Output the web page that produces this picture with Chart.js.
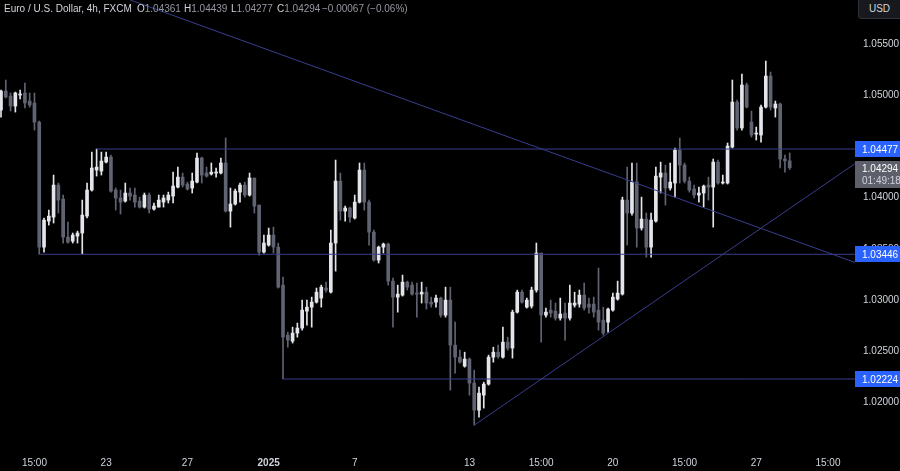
<!DOCTYPE html>
<html>
<head>
<meta charset="utf-8">
<script src="https://cdn.jsdelivr.net/npm/chart.js@4.4.1/dist/chart.umd.min.js"></script>
<style>
html, body { margin: 0; padding: 0; background: #000; }
#wrap { position: relative; width: 900px; height: 471px; overflow: hidden; background: #000; font-family: "Liberation Sans", Arial, sans-serif; }
#wrap canvas { position: absolute; left: 0; top: 0; }
.hdr { position: absolute; top: 3px; font-size: 10px; line-height: 12px; color: #d1d4dc; white-space: nowrap; }
.hdr span { color: #9598a1; }
#usd { position: absolute; right: 0; top: 0; width: 41px; height: 18px; background: #17191f; border-left: 1px solid #2f323c; border-bottom: 1px solid #2f323c; border-radius: 0 0 0 4px; color: #d1d4dc; font-size: 10px; line-height: 18px; text-align: center; }
</style>
</head>
<body>
<div id="wrap">
  <canvas id="chart" width="900" height="471"></canvas>
  <div class="hdr" style="left:4px">Euro / U.S. Dollar, 4h, FXCM</div>
  <div class="hdr" style="left:137px">O<span>1.04361</span></div>
  <div class="hdr" style="left:184px">H<span>1.04439</span></div>
  <div class="hdr" style="left:231px">L<span>1.04277</span></div>
  <div class="hdr" style="left:277px">C<span>1.04294</span></div>
  <div class="hdr" style="left:322px"><span>&minus;0.00067 (&minus;0.06%)</span></div>
  <div id="usd">USD</div>
</div>
<script>
// 4h candles, EUR/USD (FXCM)
var opens = [
  1.04859,1.05045,1.04996,1.04898,1.05006,1.05026,1.04947,1.04928,1.04741,1.03516,
  1.03771,1.03810,1.04124,1.03987,1.03614,1.03575,1.03624,1.03654,1.03820,1.04075,
  1.04271,1.04261,1.04349,1.04398,1.04075,1.03997,1.03967,1.04046,1.04026,1.03967,
  1.03908,1.04026,1.03889,1.03908,1.03957,1.03977,1.04016,1.04104,1.04202,1.04134,
  1.04095,1.04153,1.04389,1.04242,1.04232,1.04242,1.04242,1.04340,1.03869,1.03938,
  1.04055,1.04124,1.04026,1.04193,1.03928,1.03467,1.03536,1.03634,1.03516,1.03144,
  1.02654,1.02595,1.02674,1.02723,1.02889,1.02928,1.02977,1.03017,1.03115,1.03075,
  1.03556,1.04163,1.03869,1.03899,1.03801,1.03957,1.04271,1.03957,1.03663,1.03389,
  1.03516,1.03546,1.03183,1.03026,1.03046,1.03173,1.03144,1.03066,1.03056,1.03075,
  1.02977,1.02977,1.03017,1.02850,1.02997,1.02556,1.02438,1.02350,1.02419,1.02184,
  1.01919,1.02066,1.02174,1.02438,1.02487,1.02438,1.02585,1.02527,1.02879,1.03075,
  1.02928,1.02938,1.03095,1.03458,1.02850,1.02899,1.02889,1.02821,1.02870,1.02821,
  1.02948,1.02958,1.03046,1.02958,1.02958,1.02899,1.02801,1.02781,1.02899,1.03007,
  1.03056,1.03977,1.03850,1.04153,1.03703,1.03791,1.03516,1.03771,1.04202,1.04242,
  1.04095,1.04144,1.04467,1.04320,1.04163,1.04085,1.04026,1.04046,1.04124,1.04104,
  1.04349,1.04144,1.04144,1.04496,1.04937,1.04683,1.05104,1.04741,1.04624,1.04614,
  1.04888,1.05192,1.04879,1.04918,1.04379,1.04361
];
var highs = [
  1.05055,1.05153,1.05026,1.05035,1.05055,1.05124,1.05026,1.05026,1.04751,1.03801,
  1.03879,1.04222,1.04144,1.04026,1.03761,1.03654,1.03673,1.03977,1.04144,1.04447,
  1.04477,1.04447,1.04447,1.04418,1.04095,1.04075,1.04144,1.04095,1.04095,1.04006,
  1.04046,1.04046,1.03948,1.04026,1.04026,1.04055,1.04251,1.04300,1.04242,1.04153,
  1.04242,1.04438,1.04398,1.04300,1.04340,1.04291,1.04389,1.04585,1.04095,1.04085,
  1.04144,1.04153,1.04242,1.04193,1.03928,1.03634,1.03703,1.03712,1.03556,1.03222,
  1.02683,1.02732,1.02772,1.02997,1.02997,1.03026,1.03115,1.03144,1.03173,1.03683,
  1.04369,1.04242,1.03918,1.03908,1.04026,1.04340,1.04340,1.03977,1.03683,1.03526,
  1.03556,1.03556,1.03213,1.03144,1.03242,1.03183,1.03173,1.03164,1.03173,1.03124,
  1.03026,1.03046,1.03026,1.03124,1.03124,1.02781,1.02507,1.02487,1.02429,1.02311,
  1.02144,1.02193,1.02458,1.02536,1.02556,1.02732,1.02634,1.02899,1.03095,1.03095,
  1.03017,1.03124,1.03556,1.03458,1.02919,1.02997,1.02968,1.03017,1.02968,1.03144,
  1.03075,1.03095,1.03164,1.03017,1.03026,1.03311,1.02928,1.02919,1.03066,1.03183,
  1.04006,1.04300,1.04340,1.04340,1.04006,1.03850,1.03850,1.04300,1.04349,1.04320,
  1.04340,1.04487,1.04585,1.04340,1.04202,1.04124,1.04104,1.04124,1.04202,1.04379,
  1.04369,1.04222,1.04536,1.05153,1.04957,1.05212,1.05124,1.04849,1.04692,1.04908,
  1.05339,1.05231,1.04947,1.04928,1.04418,1.04439
];
var lows = [
  1.04790,1.04977,1.04849,1.04839,1.04967,1.04879,1.04888,1.04663,1.03446,1.03467,
  1.03732,1.03752,1.03850,1.03556,1.03556,1.03556,1.03556,1.03450,1.03801,1.04065,
  1.04212,1.04222,1.04340,1.04055,1.03879,1.03840,1.03957,1.03977,1.03908,1.03899,
  1.03899,1.03850,1.03879,1.03908,1.03908,1.03948,1.03948,1.04095,1.04104,1.04075,
  1.04046,1.04144,1.04144,1.04202,1.04222,1.04202,1.04232,1.03859,1.03712,1.03928,
  1.03957,1.04006,1.04016,1.03850,1.03438,1.03458,1.03526,1.03458,1.03115,1.02224,
  1.02536,1.02576,1.02634,1.02703,1.02752,1.02732,1.02968,1.02928,1.03075,1.03066,
  1.03281,1.03781,1.03771,1.03761,1.03791,1.03948,1.03879,1.03536,1.03379,1.03360,
  1.03458,1.03144,1.02732,1.02879,1.03036,1.03095,1.03046,1.02830,1.02968,1.02909,
  1.02928,1.02928,1.02830,1.02830,1.02115,1.02282,1.02380,1.02340,1.02066,1.01772,
  1.01850,1.01939,1.02164,1.02389,1.02429,1.02429,1.02507,1.02429,1.02870,1.02968,
  1.02919,1.02919,1.03075,1.02585,1.02830,1.02830,1.02801,1.02801,1.02605,1.02801,
  1.02928,1.02928,1.02899,1.02870,1.02830,1.02703,1.02654,1.02683,1.02889,1.02997,
  1.03046,1.03536,1.03830,1.03516,1.03683,1.03418,1.03418,1.03761,1.04046,1.03928,
  1.04075,1.04006,1.04144,1.04144,1.04055,1.03997,1.03957,1.03908,1.03977,1.03712,
  1.04134,1.04134,1.04134,1.04487,1.04663,1.04663,1.04879,1.04594,1.04565,1.04545,
  1.04879,1.04859,1.04790,1.04291,1.04251,1.04277
];
var closes = [
  1.05045,1.04986,1.04898,1.05026,1.05016,1.04928,1.04908,1.04741,1.03516,1.03781,
  1.03820,1.04124,1.03977,1.03614,1.03565,1.03634,1.03654,1.03830,1.04075,1.04291,
  1.04300,1.04359,1.04398,1.04065,1.03997,1.03957,1.04046,1.04016,1.03957,1.03908,
  1.04026,1.03889,1.03918,1.03977,1.03997,1.04026,1.04114,1.04202,1.04124,1.04085,
  1.04163,1.04389,1.04222,1.04212,1.04251,1.04251,1.04340,1.03869,1.03938,1.04065,
  1.04124,1.04026,1.04193,1.03918,1.03467,1.03556,1.03634,1.03516,1.03124,1.02634,
  1.02605,1.02674,1.02723,1.02899,1.02928,1.02977,1.03075,1.03124,1.03095,1.03556,
  1.04163,1.03869,1.03899,1.03810,1.03957,1.04271,1.03957,1.03663,1.03389,1.03516,
  1.03546,1.03183,1.03026,1.03056,1.03173,1.03124,1.03056,1.03056,1.03075,1.02968,
  1.02958,1.03017,1.02850,1.02997,1.02556,1.02438,1.02389,1.02419,1.02184,1.01919,
  1.02086,1.02174,1.02438,1.02487,1.02443,1.02585,1.02527,1.02879,1.03075,1.02977,
  1.02997,1.03095,1.03458,1.02850,1.02879,1.02870,1.02821,1.02860,1.02821,1.02968,
  1.02968,1.03046,1.02919,1.02928,1.02879,1.02781,1.02674,1.02909,1.03026,1.03066,
  1.03977,1.03850,1.04153,1.03703,1.03791,1.03516,1.03781,1.04212,1.04242,1.04095,
  1.04153,1.04467,1.04320,1.04163,1.04075,1.04026,1.04046,1.04114,1.04104,1.04349,
  1.04144,1.04153,1.04506,1.04937,1.04683,1.05104,1.04888,1.04614,1.04634,1.04888,
  1.05192,1.04888,1.04918,1.04379,1.04361,1.04294
];

// time axis: bar index of each label
var xTickIndex = [7, 22, 39, 56, 74, 98, 113, 128, 143, 158, 173];
var xTickLabels = ['15:00', '23', '27', '2025', '7', '13', '15:00', '20', '15:00', '27', '15:00'];
var yTicks = [1.020, 1.025, 1.030, 1.035, 1.040, 1.045, 1.050, 1.055];

// drawn levels: price and bar index where the line starts
var levels = [1.04477, 1.03446, 1.02224];
var levelStart = [20, 8, 59];
// trend lines as [index, price] anchor pairs
var downTrend = [[20, 1.06057], [179, 1.03360]];
var upTrend = [[99, 1.01772], [179, 1.04345]];
var countdown = '01:49:18';

var xMin = -0.21, xMax = 178.66;
var yMin = 1.01558, yMax = 1.05937;

var UP = '#e3e5ea', DOWN = '#606371', LINE = '#383e8c';
var FONT = '"Liberation Sans", Arial, sans-serif';

var colors = closes.map(function (c, i) { return c >= opens[i] ? UP : DOWN; });
var wicks = lows.map(function (l, i) { return { x: i, y: [l, highs[i]] }; });
var bodies = opens.map(function (o, i) { return { x: i, y: [o, closes[i]] }; });

function lineSet(points) {
  return {
    type: 'line',
    data: points.map(function (p) { return { x: p[0], y: p[1] }; }),
    borderColor: LINE, borderWidth: 1, pointRadius: 0, fill: false, order: 0
  };
}

var datasets = [
  { data: wicks, backgroundColor: colors, barThickness: 1, grouped: false, order: 3 },
  { data: bodies, backgroundColor: colors, barThickness: 3, minBarLength: 1, grouped: false, order: 2 },
  lineSet(downTrend),
  lineSet(upTrend)
];
levels.forEach(function (v, i) {
  datasets.push(lineSet([[levelStart[i], v], [xMax, v]]));
});

var priceTags = {
  id: 'priceTags',
  afterDraw: function (chart) {
    var ctx = chart.ctx, y = chart.scales.y;
    var left = y.left, w = y.width;
    ctx.save();
    ctx.font = '10px ' + FONT;
    ctx.textBaseline = 'middle';
    ctx.textAlign = 'left';
    levels.forEach(function (v) {
      var py = Math.round(y.getPixelForValue(v));
      ctx.fillStyle = '#2962ff';
      ctx.fillRect(left, py - 8, w, 16);
      ctx.fillStyle = '#ffffff';
      ctx.fillText(v.toFixed(5), left + 7, py + 1);
    });
    var last = closes[closes.length - 1];
    var py = Math.round(y.getPixelForValue(last));
    ctx.fillStyle = '#5d606b';
    ctx.fillRect(left, py - 7, w, 27);
    ctx.fillStyle = '#ffffff';
    ctx.fillText(last.toFixed(5), left + 7, py + 1);
    ctx.fillStyle = '#d1d4dc';
    ctx.fillText(countdown, left + 7, py + 13);
    ctx.restore();
  }
};

var ctx = document.getElementById('chart').getContext('2d');
var chart = new Chart(ctx, {
  type: 'bar',
  data: { datasets: datasets },
  options: {
    responsive: false,
    animation: false,
    events: [],
    layout: { padding: 0 },
    plugins: { legend: { display: false }, tooltip: { enabled: false } },
    scales: {
      x: {
        type: 'linear', min: xMin, max: xMax, offset: false,
        grid: { display: false, drawTicks: false }, border: { display: false },
        afterBuildTicks: function (s) { s.ticks = xTickIndex.map(function (v) { return { value: v }; }); },
        afterFit: function (s) { s.height = 24; s.paddingLeft = 0; s.paddingRight = 0; },
        ticks: {
          autoSkip: false, maxRotation: 0, padding: 10, color: '#d1d4dc',
          font: function (c) { return { size: 10, family: FONT, weight: xTickLabels[c.index] === '2025' ? 'bold' : 'normal' }; },
          callback: function (v, i) { return xTickLabels[i]; }
        }
      },
      y: {
        type: 'linear', position: 'right', min: yMin, max: yMax,
        grid: { display: false, drawTicks: false }, border: { display: false },
        afterBuildTicks: function (s) { s.ticks = yTicks.map(function (v) { return { value: v }; }); },
        afterFit: function (s) { s.width = 45; s.paddingTop = 0; s.paddingBottom = 0; },
        ticks: {
          padding: 8, color: '#d1d4dc', font: { size: 10, family: FONT },
          callback: function (v) { return v.toFixed(5); }
        }
      }
    }
  },
  plugins: [priceTags]
});
</script>
</body>
</html>
